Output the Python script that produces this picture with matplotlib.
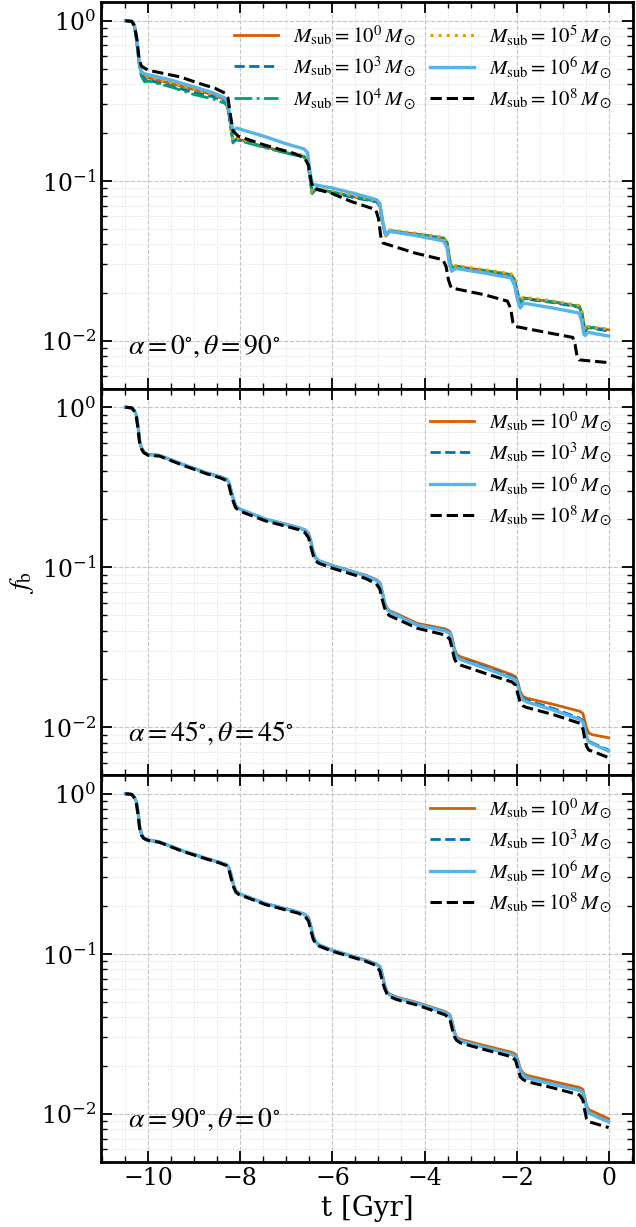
import matplotlib
matplotlib.use('Agg')
import matplotlib.pyplot as plt
from matplotlib.ticker import AutoMinorLocator

plt.rcParams['font.family'] = 'DejaVu Serif'
plt.rcParams['mathtext.fontset'] = 'stix'

# ---------------- panel 1: alpha=0, theta=90 ----------------
t1 = [-10.5, -10.36, -10.3, -10.25, -10.2, -10.15, -10.08, -10.0, -9.5, -9.0,
      -8.6, -8.34, -8.28, -8.22, -8.16, -8.08, -7.5, -7.0, -6.62, -6.54,
      -6.49, -6.44, -6.36, -6.0, -5.5, -5.04, -4.97, -4.91, -4.84, -4.76,
      -4.2, -3.58, -3.51, -3.46, -3.41, -3.32, -2.7, -2.12, -2.04, -1.98,
      -1.92, -1.85, -1.2, -0.64, -0.58, -0.54, -0.51, -0.45, 0.0]
p1_m0 = [1.0, 0.99, 0.93, 0.75, 0.55, 0.47, 0.445, 0.44, 0.405, 0.37,
         0.345, 0.322, 0.30, 0.235, 0.176, 0.183, 0.164, 0.150, 0.142, 0.135,
         0.105, 0.084, 0.089, 0.085, 0.079, 0.0745, 0.070, 0.055, 0.045, 0.0488,
         0.0465, 0.0438, 0.041, 0.033, 0.0285, 0.0292, 0.0275, 0.0259, 0.024, 0.020,
         0.0175, 0.0185, 0.0175, 0.0164, 0.015, 0.0128, 0.0115, 0.0122, 0.0117]
p1_m3 = [1.0, 0.99, 0.93, 0.74, 0.54, 0.46, 0.43, 0.425, 0.39, 0.355,
         0.335, 0.315, 0.295, 0.23, 0.174, 0.181, 0.163, 0.149, 0.141, 0.134,
         0.104, 0.083, 0.088, 0.084, 0.078, 0.0738, 0.069, 0.054, 0.0445, 0.0483,
         0.046, 0.0434, 0.0405, 0.0326, 0.0282, 0.0289, 0.0272, 0.0256, 0.0237, 0.0198,
         0.0173, 0.0183, 0.0173, 0.0162, 0.0148, 0.0126, 0.0114, 0.0121, 0.0115]
p1_m4 = [1.0, 0.99, 0.93, 0.73, 0.53, 0.45, 0.415, 0.42, 0.385, 0.345,
         0.325, 0.305, 0.29, 0.225, 0.172, 0.18, 0.162, 0.149, 0.141, 0.134,
         0.104, 0.083, 0.089, 0.085, 0.079, 0.0745, 0.070, 0.055, 0.045, 0.0488,
         0.0465, 0.0438, 0.041, 0.033, 0.0285, 0.0292, 0.0275, 0.0259, 0.024, 0.020,
         0.0175, 0.0185, 0.0175, 0.0164, 0.015, 0.0128, 0.0115, 0.0122, 0.0117]
p1_m5 = [1.0, 0.99, 0.93, 0.75, 0.56, 0.475, 0.45, 0.445, 0.41, 0.372,
         0.347, 0.325, 0.302, 0.237, 0.178, 0.185, 0.166, 0.152, 0.144, 0.137,
         0.106, 0.085, 0.09, 0.086, 0.08, 0.0752, 0.0705, 0.0555, 0.0455, 0.0493,
         0.047, 0.0443, 0.0415, 0.0334, 0.0288, 0.0295, 0.0278, 0.0262, 0.0243, 0.0202,
         0.0177, 0.0187, 0.0177, 0.0166, 0.0152, 0.0129, 0.0116, 0.0123, 0.0118]
p1_m6 = [1.0, 0.99, 0.93, 0.76, 0.56, 0.48, 0.465, 0.46, 0.425, 0.385,
         0.355, 0.33, 0.31, 0.25, 0.205, 0.213, 0.19, 0.17, 0.158, 0.15,
         0.115, 0.095, 0.094, 0.09, 0.083, 0.076, 0.072, 0.056, 0.046, 0.0483,
         0.0455, 0.042, 0.038, 0.030, 0.0272, 0.0283, 0.0265, 0.0247, 0.022, 0.018,
         0.016, 0.0172, 0.016, 0.0149, 0.013, 0.011, 0.0108, 0.0113, 0.0107]
t1_m8 = [-10.5, -10.36, -10.3, -10.25, -10.2, -10.15, -10.0, -9.3, -8.9, -8.55,
         -8.33, -8.27, -8.22, -8.16, -8.05, -7.5, -6.8, -6.6, -6.52, -6.46,
         -6.42, -6.0, -5.6, -5.06, -5.0, -4.95, -4.9, -4.2, -3.6, -3.53,
         -3.48, -3.42, -2.7, -2.2, -2.13, -2.08, -2.03, -1.3, -0.78, -0.73,
         -0.69, -0.64, 0.0]
p1_m8 = [1.0, 0.99, 0.93, 0.77, 0.58, 0.52, 0.49, 0.445, 0.406, 0.378,
         0.352, 0.33, 0.26, 0.205, 0.19, 0.168, 0.147, 0.138, 0.125, 0.098,
         0.09, 0.083, 0.0743, 0.066, 0.058, 0.045, 0.0408, 0.0353, 0.0321, 0.029,
         0.024, 0.0214, 0.0194, 0.0177, 0.016, 0.013, 0.0123, 0.0112, 0.0105, 0.0095,
         0.0081, 0.0076, 0.0073]

# ---------------- panels 2 and 3: common time grid ----------------
t23 = [-10.5, -10.36, -10.3, -10.26, -10.22, -10.19, -10.15, -10.1, -10.0, -9.76,
       -9.26, -8.75, -8.45, -8.3, -8.25, -8.2, -8.15, -8.1, -8.03, -7.9,
       -7.46, -6.74, -6.6, -6.52, -6.47, -6.42, -6.37, -6.3, -6.02, -5.3,
       -5.05, -4.97, -4.92, -4.87, -4.82, -4.76, -4.6, -4.16, -3.55, -3.45,
       -3.4, -3.35, -3.3, -3.22, -2.7, -2.1, -2.02, -1.97, -1.92, -1.86,
       -1.78, -1.2, -0.63, -0.56, -0.52, -0.48, -0.43, -0.36, 0.0]

# panel 2: alpha=45, theta=45
p2_m6 = [1.0, 0.99, 0.95, 0.89, 0.75, 0.62, 0.56, 0.525, 0.506, 0.50,
         0.44, 0.39, 0.368, 0.355, 0.34, 0.30, 0.265, 0.242, 0.232, 0.224,
         0.20, 0.177, 0.171, 0.163, 0.145, 0.126, 0.115, 0.110, 0.1025, 0.0888,
         0.083, 0.079, 0.070, 0.060, 0.055, 0.0525, 0.050, 0.0436, 0.040, 0.0385,
         0.035, 0.030, 0.0275, 0.0265, 0.0235, 0.0203, 0.0197, 0.018, 0.0158, 0.0148,
         0.0144, 0.0128, 0.0112, 0.0108, 0.0097, 0.0087, 0.0081, 0.0079, 0.0071]
p2_m3 = [1.0, 0.99, 0.95, 0.89, 0.75, 0.62, 0.56, 0.525, 0.506, 0.50,
         0.44, 0.39, 0.368, 0.355, 0.34, 0.30, 0.265, 0.242, 0.232, 0.224,
         0.20, 0.177, 0.171, 0.163, 0.145, 0.126, 0.115, 0.110, 0.1027, 0.089,
         0.0833, 0.0793, 0.0703, 0.0603, 0.0553, 0.0528, 0.0503, 0.0439, 0.0404, 0.0389,
         0.0354, 0.0304, 0.0279, 0.0269, 0.0239, 0.0207, 0.0201, 0.0184, 0.0161, 0.0151,
         0.0147, 0.0131, 0.0114, 0.011, 0.0098, 0.0088, 0.0082, 0.008, 0.0072]
p2_m0 = [1.0, 0.99, 0.95, 0.89, 0.75, 0.62, 0.56, 0.525, 0.506, 0.50,
         0.44, 0.39, 0.368, 0.355, 0.34, 0.30, 0.265, 0.242, 0.232, 0.224,
         0.20, 0.177, 0.171, 0.163, 0.145, 0.126, 0.115, 0.110, 0.103, 0.0895,
         0.0838, 0.08, 0.071, 0.061, 0.056, 0.0535, 0.0512, 0.0446, 0.0412, 0.0397,
         0.0362, 0.031, 0.0285, 0.0276, 0.0246, 0.0213, 0.0207, 0.019, 0.0167, 0.0156,
         0.0152, 0.0139, 0.0126, 0.0122, 0.011, 0.0099, 0.0092, 0.009, 0.0086]
p2_m8 = [1.0, 0.99, 0.94, 0.87, 0.72, 0.6, 0.55, 0.52, 0.5, 0.495,
         0.435, 0.385, 0.363, 0.348, 0.325, 0.285, 0.255, 0.235, 0.226, 0.218,
         0.195, 0.172, 0.165, 0.153, 0.135, 0.119, 0.11, 0.106, 0.099, 0.0855,
         0.079, 0.073, 0.063, 0.056, 0.052, 0.0498, 0.0475, 0.0416, 0.0377, 0.0355,
         0.031, 0.0268, 0.0252, 0.0245, 0.0218, 0.0192, 0.0183, 0.016, 0.0142, 0.0136,
         0.0133, 0.012, 0.0106, 0.0098, 0.0085, 0.0076, 0.0072, 0.0071, 0.00646]

# panel 3: alpha=90, theta=0
p3_m6 = [1.0, 0.99, 0.95, 0.89, 0.76, 0.63, 0.56, 0.53, 0.513, 0.50,
         0.44, 0.395, 0.372, 0.36, 0.345, 0.31, 0.27, 0.248, 0.238, 0.23,
         0.206, 0.182, 0.176, 0.168, 0.148, 0.13, 0.119, 0.114, 0.1054, 0.0914,
         0.086, 0.083, 0.074, 0.064, 0.058, 0.0555, 0.053, 0.049, 0.0428, 0.041,
         0.037, 0.032, 0.0295, 0.0285, 0.026, 0.0235, 0.0228, 0.021, 0.0185, 0.0174,
         0.0168, 0.0153, 0.014, 0.0136, 0.0122, 0.0108, 0.0101, 0.0099, 0.0089]
p3_m3 = p3_m6
p3_m0 = [1.0, 0.99, 0.95, 0.89, 0.76, 0.63, 0.56, 0.53, 0.513, 0.50,
         0.44, 0.395, 0.372, 0.36, 0.345, 0.31, 0.27, 0.248, 0.238, 0.23,
         0.206, 0.182, 0.176, 0.168, 0.148, 0.13, 0.119, 0.114, 0.1056, 0.0918,
         0.0865, 0.0835, 0.0745, 0.0645, 0.0585, 0.056, 0.0536, 0.0496, 0.0435, 0.0417,
         0.0377, 0.0326, 0.0301, 0.0292, 0.0267, 0.0242, 0.0235, 0.0217, 0.0191, 0.018,
         0.0174, 0.0159, 0.0146, 0.0142, 0.0127, 0.0113, 0.0106, 0.0104, 0.0093]
p3_m8 = [1.0, 0.99, 0.94, 0.87, 0.73, 0.61, 0.55, 0.525, 0.51, 0.497,
         0.437, 0.392, 0.369, 0.355, 0.335, 0.295, 0.262, 0.243, 0.234, 0.227,
         0.203, 0.179, 0.172, 0.16, 0.14, 0.124, 0.116, 0.112, 0.104, 0.0902,
         0.0845, 0.078, 0.068, 0.061, 0.0565, 0.054, 0.0517, 0.0478, 0.0415, 0.0392,
         0.034, 0.0303, 0.0287, 0.0277, 0.0252, 0.0227, 0.0215, 0.019, 0.017, 0.0164,
         0.0159, 0.0145, 0.0131, 0.0122, 0.0105, 0.0093, 0.0089, 0.0088, 0.0082]

labels = {0: r'$M_{\rm sub}=10^{0}\,M_\odot$', 3: r'$M_{\rm sub}=10^{3}\,M_\odot$',
          4: r'$M_{\rm sub}=10^{4}\,M_\odot$', 5: r'$M_{\rm sub}=10^{5}\,M_\odot$',
          6: r'$M_{\rm sub}=10^{6}\,M_\odot$', 8: r'$M_{\rm sub}=10^{8}\,M_\odot$'}
styles = {0: dict(color='#d55e00', ls='-', lw=2.0),
          3: dict(color='#0072b2', ls='--', lw=2.0),
          4: dict(color='#009e73', ls='-.', lw=2.0),
          5: dict(color='#e69f00', ls=':', lw=2.2),
          6: dict(color='#56b4e9', ls='-', lw=2.4),
          8: dict(color='k', ls='--', lw=2.2)}
angle_text = [r'$\alpha=0^{\circ},\theta=90^{\circ}$',
              r'$\alpha=45^{\circ},\theta=45^{\circ}$',
              r'$\alpha=90^{\circ},\theta=0^{\circ}$']

fig, axes = plt.subplots(3, 1, figsize=(6.36, 12.27), dpi=100, sharex=True)
fig.subplots_adjust(left=0.159, right=0.995, top=0.998, bottom=0.053, hspace=0)

ax = axes[0]
for m, y in [(0, p1_m0), (3, p1_m3), (4, p1_m4), (5, p1_m5), (6, p1_m6)]:
    ax.plot(t1, y, label=labels[m], **styles[m])
ax.plot(t1_m8, p1_m8, label=labels[8], **styles[8])

ax = axes[1]
for m, y in [(0, p2_m0), (3, p2_m3), (6, p2_m6), (8, p2_m8)]:
    ax.plot(t23, y, label=labels[m], **styles[m])

ax = axes[2]
for m, y in [(0, p3_m0), (3, p3_m3), (6, p3_m6), (8, p3_m8)]:
    ax.plot(t23, y, label=labels[m], **styles[m])

for i, ax in enumerate(axes):
    ax.set_yscale('log')
    ax.set_ylim(0.005, 1.3)
    ax.set_xlim(-11.025, 0.525)
    ax.xaxis.set_minor_locator(AutoMinorLocator(4))
    ax.tick_params(which='both', direction='in', top=True, right=True, labelsize=17)
    ax.tick_params(which='major', length=8, width=1.3)
    ax.tick_params(which='minor', length=4, width=1.0)
    for s in ax.spines.values():
        s.set_linewidth(2)
    ax.grid(True, which='major', ls='--', color='#c4c4c4', lw=0.8)
    ax.grid(True, which='minor', ls=':', color='#dcdcdc', lw=0.7)
    ax.text(0.05, 0.11, angle_text[i], transform=ax.transAxes, fontsize=20,
            ha='left', va='center')
    ax.legend(loc='upper right', ncol=2 if i == 0 else 1, frameon=False,
              fontsize=15, handlelength=2.1, handletextpad=0.7, labelspacing=0.3,
              columnspacing=0.7, borderaxespad=0.6)

axes[1].set_ylabel(r'$f_{\rm b}$', fontsize=20)
axes[2].set_xlabel('t [Gyr]', fontsize=20)

fig.savefig('out.png', dpi=100)
